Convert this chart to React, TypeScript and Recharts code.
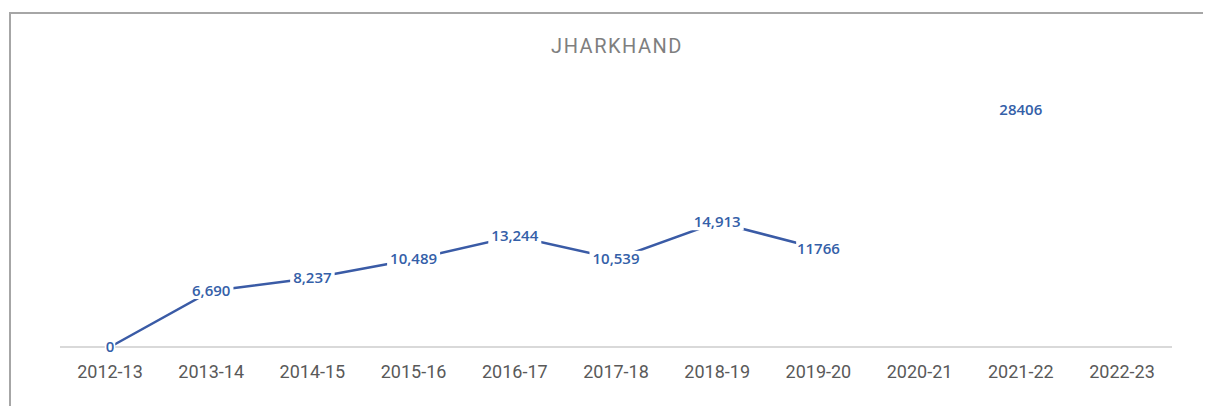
import React from 'react';
import { LineChart, Line, XAxis, YAxis, LabelList } from 'recharts';

const years = ['2012-13', '2013-14', '2014-15', '2015-16', '2016-17', '2017-18', '2018-19', '2019-20', '2020-21', '2021-22', '2022-23'];
const values: (number | null)[] = [0, 6690, 8237, 10489, 13244, 10539, 14913, 11766, null, 28406, null];
const valueLabels: (string | null)[] = ['0', '6,690', '8,237', '10,489', '13,244', '10,539', '14,913', '11766', null, '28406', null];

const chartData = years.map((year, i) => ({ year, value: values[i], label: valueLabels[i] }));

const LABEL_COLOR = '#3460a8';

const PointLabel = (props: any) => {
  const { x, y, value } = props;
  if (value === null || value === undefined || y === null || y === undefined) return null;
  const text = String(value);
  const w = text.length * 8.5 + 2;
  return (
    <g>
      <rect x={x - w / 2} y={y - 8} width={w} height={16} fill="#ffffff" />
      <text x={x} y={y} dy="0.35em" textAnchor="middle" fill={LABEL_COLOR} fontSize={15} fontWeight={600} fontFamily="'Open Sans', sans-serif">
        {text}
      </text>
    </g>
  );
};

const App: React.FC = () => {
  return (
    <div style={{ position: 'relative', marginTop: 4, marginLeft: 1, width: 1194, height: 394, borderTop: '2px solid #a6a6a6', borderLeft: '2px solid #a6a6a6', boxSizing: 'border-box', fontFamily: 'Roboto, sans-serif' }}>
      <div style={{ position: 'absolute', top: 20, left: 0, width: '100%', paddingLeft: 20, boxSizing: 'border-box', textAlign: 'center', fontSize: 20, letterSpacing: 1.5, color: '#7f7f7f' }}>
        JHARKHAND
      </div>
      <LineChart width={1192} height={392} data={chartData} margin={{ top: 82, right: 31, left: 49, bottom: 19 }}>
        <XAxis
          dataKey="year"
          height={40}
          padding={{ left: 50, right: 50 }}
          axisLine={{ stroke: '#d9d9d9', strokeWidth: 2 }}
          tickLine={false}
          tickMargin={12}
          interval={0}
          tick={{ fill: '#595959', fontSize: 18, fontFamily: 'Roboto, sans-serif' }}
        />
        <YAxis hide domain={[0, 30000]} />
        <Line
          type="linear"
          dataKey="value"
          stroke="#3a5ba6"
          strokeWidth={2.5}
          dot={false}
          connectNulls={false}
          isAnimationActive={false}
        >
          <LabelList dataKey="label" content={<PointLabel />} />
        </Line>
      </LineChart>
    </div>
  );
};

export default App;
